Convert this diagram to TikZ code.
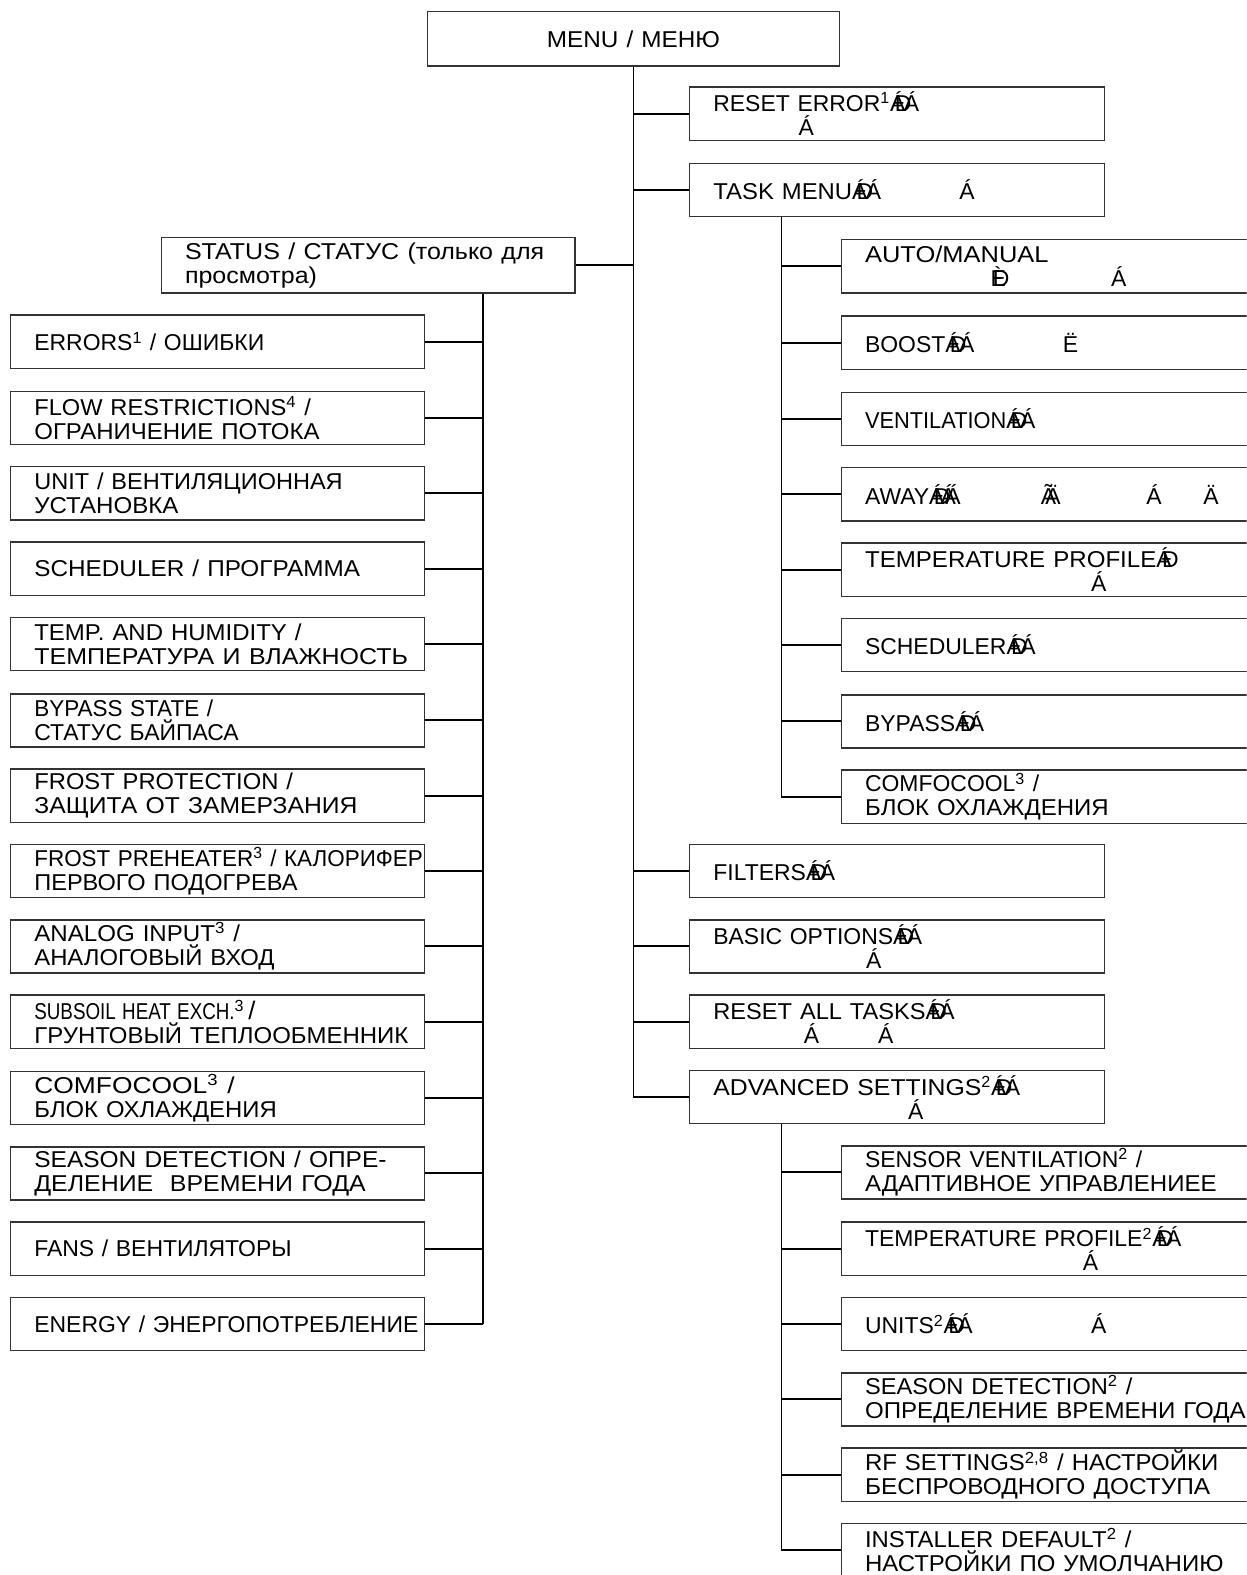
\documentclass[tikz,border=0pt]{standalone}
\usepackage{fontspec}
\usepackage{graphicx}
\setmainfont{Liberation Sans}
\usetikzlibrary{calc}
\newcommand\mb[1]{\mbox{#1}}
\newcommand\sx[2]{\scalebox{#1}[1]{#2}}
\newcommand\at[2]{\makebox[0pt][l]{\hspace*{#1}#2}}
\newcommand\gz{\makebox[0pt][l]{Á}\kern0.2em\makebox[0pt][l]{Ð}\kern0.4em Á}
\newcommand\gzz{\makebox[0pt][l]{Á}\kern0.2em\makebox[0pt][l]{Ð}\kern0.3em\makebox[0pt][l]{Á}\kern0.2em Á}
\newcommand\gy{\makebox[0pt][l]{Á}\kern0.25em Ð}
\newcommand\gED{\makebox[0pt][l]{È}\kern0.1em Ð}
\newcommand\gAA{\makebox[0pt][l]{Ã}\kern0.2em Ä}
\begin{document}
\begin{tikzpicture}[x=0.02cm,y=-0.02cm,
  box/.style={draw=black!80, line width=0.8pt, anchor=north west, inner xsep=0.47cm, inner ysep=0pt,
    align=left, font=\fontsize{13}{13.6}\selectfont, minimum height=1.06cm},
  lbox/.style={box, text width=7.3cm},
  midbox/.style={box, text width=7.32cm},
  rbox/.style={box, text width=8.86cm},
  conn/.style={line width=1.1pt}]
\clip (0,0) rectangle (1241,1568);
\fill[white] (0,0) rectangle (1241,1568);

% top
\node[box, align=center, text width=7.26cm, minimum height=1.08cm] (menu) at (425,11) {\sx{1.06}{MENU / МЕНЮ}};
\node[midbox] (reset) at (686,86) {\mb{RESET ERROR\textsuperscript{1}\gz}\\\mb{\at{1.7cm}{Á}}};
\node[midbox] (task) at (686,162) {\mb{\at{4.9cm}{Á}\sx{1.04}{TASK MENU}\gz}};
\node[lbox, minimum height=1.1cm] (status) at (160,236) {\sx{1.09}{STATUS / СТАТУС (только для}\\\sx{1.09}{просмотра)}};

% task children
\node[rbox] (t1) at (837,238) {\sx{1.11}{AUTO/MANUAL}\\\mb{\at{2.5cm}{\gED}\at{4.9cm}{Á}}};
\node[rbox] (t2) at (837,314) {\mb{\at{3.94cm}{Ë}BOOST\gz}};
\node[rbox] (t3) at (837,390) {\mb{\sx{0.95}{VENTILATION}\gz}};
\node[rbox] (t4) at (837,465) {\mb{\at{3.5cm}{\gAA}\at{5.6cm}{Á}\at{6.74cm}{Ä}AWAY\gzz}};
\node[rbox] (t5) at (837,540) {\mb{\sx{1.05}{TEMPERATURE PROFILE}\gy}\\\mb{\at{4.5cm}{Á}}};
\node[rbox] (t6) at (837,615) {\mb{SCHEDULER\gz}};
\node[rbox] (t7) at (837,691) {\mb{BYPASS\gz}};
\node[rbox] (t8) at (837,766) {\mb{COMFOCOOL\textsuperscript{3} /}\\\sx{1.045}{БЛОК ОХЛАЖДЕНИЯ}};

% middle
\node[midbox] (filters) at (686,840) {\mb{FILTERS\gz}};
\node[midbox] (basic) at (686,915) {\mb{BASIC OPTIONS\gz}\\\mb{\at{3.04cm}{Á}}};
\node[midbox] (resetall) at (686,990) {\mb{\sx{1.03}{RESET ALL TASKS}\gz}\\\mb{\at{1.8cm}{Á}\at{3.28cm}{Á}}};
\node[midbox] (adv) at (686,1065) {\mb{\sx{1.08}{ADVANCED SETTINGS}\textsuperscript{2}\gz}\\\mb{\at{3.88cm}{Á}}};

% advanced children
\node[rbox] (a1) at (837,1140) {\mb{SENSOR VENTILATION\textsuperscript{2} /}\\\sx{1.048}{АДАПТИВНОЕ УПРАВЛЕНИЕЕ}};
\node[rbox] (a2) at (837,1216) {\mb{TEMPERATURE PROFILE\textsuperscript{2}\gz}\\\mb{\at{4.34cm}{Á}}};
\node[rbox] (a3) at (837,1291) {\mb{\at{4.5cm}{Á}UNITS\textsuperscript{2}\gz}};
\node[rbox] (a4) at (837,1366) {\sx{1.03}{SEASON DETECTION\textsuperscript{2} /}\\\sx{1.05}{ОПРЕДЕЛЕНИЕ ВРЕМЕНИ ГОДА}};
\node[rbox] (a5) at (837,1441) {\sx{1.045}{RF SETTINGS\textsuperscript{2,8} / НАСТРОЙКИ}\\\sx{1.065}{БЕСПРОВОДНОГО ДОСТУПА}};
\node[rbox] (a6) at (837,1516) {\sx{1.04}{INSTALLER DEFAULT\textsuperscript{2} /}\\\sx{1.045}{НАСТРОЙКИ ПО УМОЛЧАНИЮ}};

% status children
\node[lbox] (s1) at (10,313) {\mb{ERRORS\textsuperscript{1} / ОШИБКИ}};
\node[lbox] (s2) at (10,389) {\sx{1.03}{FLOW RESTRICTIONS\textsuperscript{4} /}\\\sx{1.045}{ОГРАНИЧЕНИЕ ПОТОКА}};
\node[lbox] (s3) at (10,464) {\sx{1.025}{UNIT / ВЕНТИЛЯЦИОННАЯ}\\\sx{1.05}{УСТАНОВКА}};
\node[lbox] (s4) at (10,539) {\sx{1.06}{SCHEDULER / ПРОГРАММА}};
\node[lbox] (s5) at (10,614) {\sx{1.045}{TEMP. AND HUMIDITY /}\\\sx{1.09}{ТЕМПЕРАТУРА И ВЛАЖНОСТЬ}};
\node[lbox] (s6) at (10,690) {\sx{0.98}{BYPASS STATE /}\\\mb{СТАТУС БАЙПАСА}};
\node[lbox] (s7) at (10,765) {\sx{1.035}{FROST PROTECTION /}\\\sx{1.077}{ЗАЩИТА ОТ ЗАМЕРЗАНИЯ}};
\node[lbox] (s8) at (10,840) {\sx{0.978}{FROST PREHEATER\textsuperscript{3} / КАЛОРИФЕР}\\\sx{1.027}{ПЕРВОГО ПОДОГРЕВА}};
\node[lbox] (s9) at (10,915) {\sx{1.05}{ANALOG INPUT\textsuperscript{3} /}\\\sx{1.04}{АНАЛОГОВЫЙ ВХОД}};
\node[lbox] (s10) at (10,990) {\mb{\sx{0.82}{SUBSOIL HEAT EXCH.}\textsuperscript{3}\,{\Large /}}\\\sx{1.045}{ГРУНТОВЫЙ ТЕПЛООБМЕННИК}};
\node[lbox] (s11) at (10,1066) {\sx{1.15}{COMFOCOOL\textsuperscript{3} /}\\\sx{1.04}{БЛОК ОХЛАЖДЕНИЯ}};
\node[lbox] (s12) at (10,1141) {\sx{1.067}{SEASON DETECTION / ОПРЕ-}\\\sx{1.086}{ДЕЛЕНИЕ\ \ ВРЕМЕНИ ГОДА}};
\node[lbox] (s13) at (10,1216) {\mb{FANS / ВЕНТИЛЯТОРЫ}};
\node[lbox] (s14) at (10,1291) {\mb{ENERGY / ЭНЕРГОПОТРЕБЛЕНИЕ}};

% main trunk
\draw[conn] (menu.south) -- (menu.south |- adv.west);
\foreach \n in {reset,task,filters,basic,resetall,adv}
  \draw[conn] (menu.south |- \n.west) -- (\n.west);
\draw[conn] (status.east) -- (menu.south |- status.east);

% status trunk
\coordinate (st) at ($(status.south west)+(321,0)$);
\draw[conn] (st) -- (st |- s14.east);
\foreach \n in {s1,s2,s3,s4,s5,s6,s7,s8,s9,s10,s11,s12,s13,s14}
  \draw[conn] (st |- \n.east) -- (\n.east);

% task trunk
\coordinate (tk) at ($(task.south west)+(92,0)$);
\draw[conn] (tk) -- (tk |- t8.west);
\foreach \n in {t1,t2,t3,t4,t5,t6,t7,t8}
  \draw[conn] (tk |- \n.west) -- (\n.west);

% advanced trunk
\coordinate (ak) at ($(adv.south west)+(92,0)$);
\draw[conn] (ak) -- (ak |- a6.west);
\foreach \n in {a1,a2,a3,a4,a5,a6}
  \draw[conn] (ak |- \n.west) -- (\n.west);
\end{tikzpicture}
\end{document}
